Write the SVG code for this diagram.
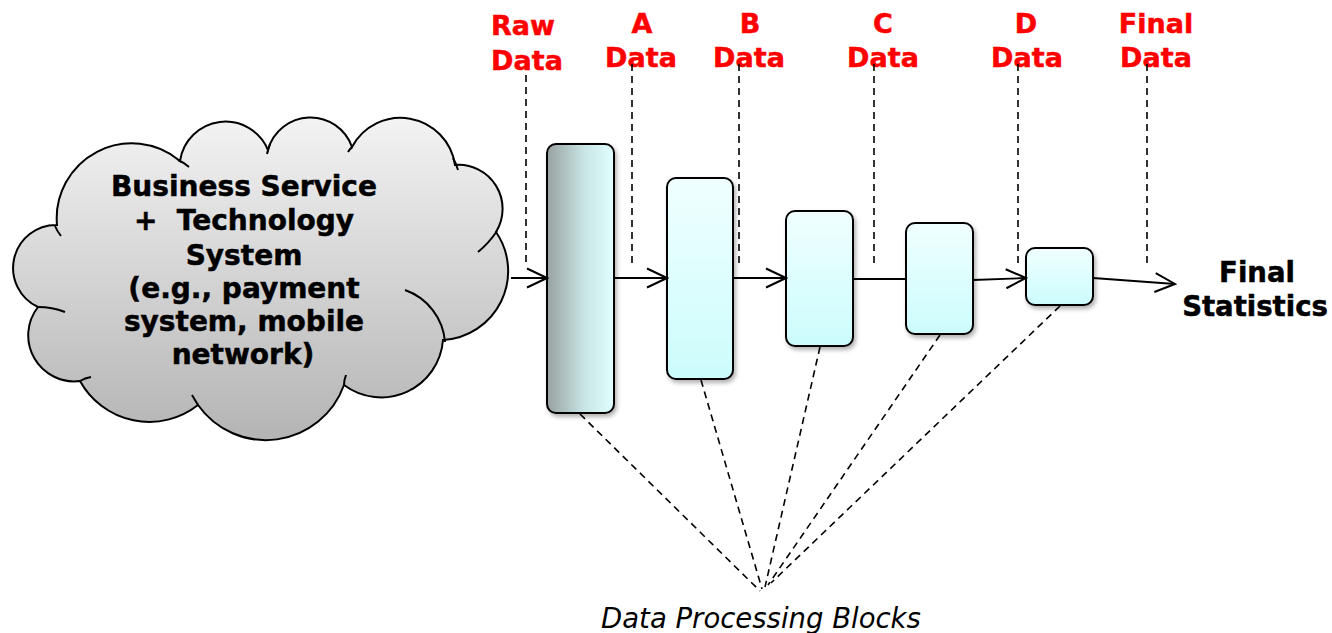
<svg xmlns="http://www.w3.org/2000/svg" width="1332" height="633" viewBox="0 0 1332 633">
<style>
.lbl{font-family:"DejaVu Sans",Verdana,sans-serif;font-weight:bold;font-size:27px;fill:#ff0000;stroke:#ff0000;stroke-width:0.5;text-anchor:middle}
.ctext{font-family:"DejaVu Sans",Verdana,sans-serif;font-weight:bold;font-size:28px;fill:#000;stroke:#000;stroke-width:0.5;text-anchor:middle}
.btext{font-family:"DejaVu Sans",Verdana,sans-serif;font-weight:bold;font-size:27.5px;fill:#000;stroke:#000;stroke-width:0.5;text-anchor:middle}
.itext{font-family:"DejaVu Sans",Verdana,sans-serif;font-style:italic;font-size:27.5px;fill:#000;text-anchor:middle}
.blk{stroke:#000;stroke-width:2;filter:url(#sh)}
.dash{stroke:#000;stroke-width:1.6;stroke-dasharray:7 5;fill:none}
.conn{stroke:#000;stroke-width:1.8;fill:none}
.cl{stroke:#000;stroke-width:2;fill:none}
</style>
<defs>
<linearGradient id="cloudG" x1="0" y1="0" x2="0" y2="1">
<stop offset="0" stop-color="#f3f3f3"/>
<stop offset="1" stop-color="#b4b4b4"/>
</linearGradient>
<linearGradient id="b1G" x1="0" y1="0" x2="1" y2="0">
<stop offset="0" stop-color="#98a1a1"/>
<stop offset="0.55" stop-color="#c8e4e4"/>
<stop offset="1" stop-color="#e2ffff"/>
</linearGradient>
<linearGradient id="bG" x1="0" y1="0" x2="0" y2="1">
<stop offset="0" stop-color="#f0ffff"/>
<stop offset="1" stop-color="#ccfcfc"/>
</linearGradient>
<filter id="sh" x="-20%" y="-10%" width="150%" height="130%">
<feDropShadow dx="2" dy="3" stdDeviation="2" flood-color="#000" flood-opacity="0.3"/>
</filter>
<marker id="arr" markerUnits="userSpaceOnUse" markerWidth="24" markerHeight="24" viewBox="0 0 24 24" refX="22" refY="12" orient="auto">
<path d="M2,2.5 L22,12 L2,21.5" fill="none" stroke="#000" stroke-width="2"/>
</marker>
</defs>

<g id="cloud">
<path d="M57,225 A75,75 0 0 1 180,161 A46,46 0 0 1 268,150 A44,44 0 0 1 352,147 A55,55 0 0 1 455,165 A44,44 0 0 1 496,232 A69,69 0 0 1 443,340 A62,62 0 0 1 344,385 A83,83 0 0 1 198,405 A79,79 0 0 1 80,381 A46,46 0 0 1 38,307 A43,43 0 0 1 57,225 Z" fill="url(#cloudG)" stroke="#000" stroke-width="2"/>
<path class="cl" d="M55,226 Q57,231 61,236"/>
<path class="cl" d="M178,160 Q183,162 189,167"/>
<path class="cl" d="M270,144 Q268,149 267,154"/>
<path class="cl" d="M352,147 Q350,149 348,152"/>
<path class="cl" d="M453,158 Q456,163 458,170"/>
<path class="cl" d="M497,231 Q489,243 478,252"/>
<path class="cl" d="M405,290 A60,60 0 0 1 445,342"/>
<path class="cl" d="M344,385 Q344,380 346,375"/>
<path class="cl" d="M198,405 Q195,400 192,395"/>
<path class="cl" d="M80,381 Q85,378 91,377"/>
<path class="cl" d="M38,307 Q52,307 65,312"/>
<text class="ctext" x="244" y="196">Business Service</text>
<text class="ctext" x="244" y="230" xml:space="preserve">+  Technology</text>
<text class="ctext" x="244" y="265">System</text>
<text class="ctext" x="244" y="298">(e.g., payment</text>
<text class="ctext" x="244" y="331">system, mobile</text>
<text class="ctext" x="243" y="364">network)</text>
</g>

<g id="block1"><rect class="blk" x="547" y="144" width="67" height="269" rx="9" fill="url(#b1G)"/></g>
<g id="block2"><rect class="blk" x="667" y="178" width="66" height="201" rx="9" fill="url(#bG)"/></g>
<g id="block3"><rect class="blk" x="786" y="211" width="67" height="135" rx="9" fill="url(#bG)"/></g>
<g id="block4"><rect class="blk" x="906" y="223" width="67" height="111" rx="9" fill="url(#bG)"/></g>
<g id="block5"><rect class="blk" x="1026" y="248" width="67" height="57" rx="9" fill="url(#bG)"/></g>

<g id="labels">
<text class="lbl" x="523" y="35">Raw</text>
<text class="lbl" x="527" y="70">Data</text>
<text class="lbl" x="642" y="33">A</text>
<text class="lbl" x="641" y="67">Data</text>
<text class="lbl" x="750" y="33">B</text>
<text class="lbl" x="749" y="67">Data</text>
<text class="lbl" x="883" y="33">C</text>
<text class="lbl" x="883" y="67">Data</text>
<text class="lbl" x="1026" y="33">D</text>
<text class="lbl" x="1027" y="67">Data</text>
<text class="lbl" x="1156" y="33">Final</text>
<text class="lbl" x="1156" y="67">Data</text>
</g>

<g id="final-statistics">
<text class="btext" x="1257" y="282">Final</text>
<text class="btext" x="1255" y="316">Statistics</text>
</g>

<g id="caption">
<text class="itext" x="761" y="628">Data Processing Blocks</text>
</g>

<g id="connectors">
<line class="conn" x1="511" y1="278" x2="547" y2="278" marker-end="url(#arr)"/>
<line class="conn" x1="614" y1="278" x2="667" y2="278" marker-end="url(#arr)"/>
<line class="conn" x1="733" y1="278" x2="786" y2="278" marker-end="url(#arr)"/>
<line class="conn" x1="853" y1="279" x2="906" y2="279"/>
<line class="conn" x1="973" y1="280" x2="1026" y2="278" marker-end="url(#arr)"/>
<line class="conn" x1="1093" y1="278" x2="1175" y2="284" marker-end="url(#arr)"/>
<line class="dash" x1="526" y1="75" x2="526" y2="266"/>
<line class="dash" x1="632" y1="64" x2="632" y2="267"/>
<line class="dash" x1="739" y1="64" x2="739" y2="267"/>
<line class="dash" x1="874" y1="64" x2="874" y2="267"/>
<line class="dash" x1="1018" y1="64" x2="1018" y2="267"/>
<line class="dash" x1="1147" y1="64" x2="1147" y2="267"/>
<line class="dash" x1="580" y1="414" x2="760" y2="591"/>
<line class="dash" x1="701" y1="380" x2="762" y2="589"/>
<line class="dash" x1="820" y1="347" x2="765" y2="587"/>
<line class="dash" x1="940" y1="335" x2="768" y2="585"/>
<line class="dash" x1="1060" y1="306" x2="771" y2="583"/>
</g>
</svg>
